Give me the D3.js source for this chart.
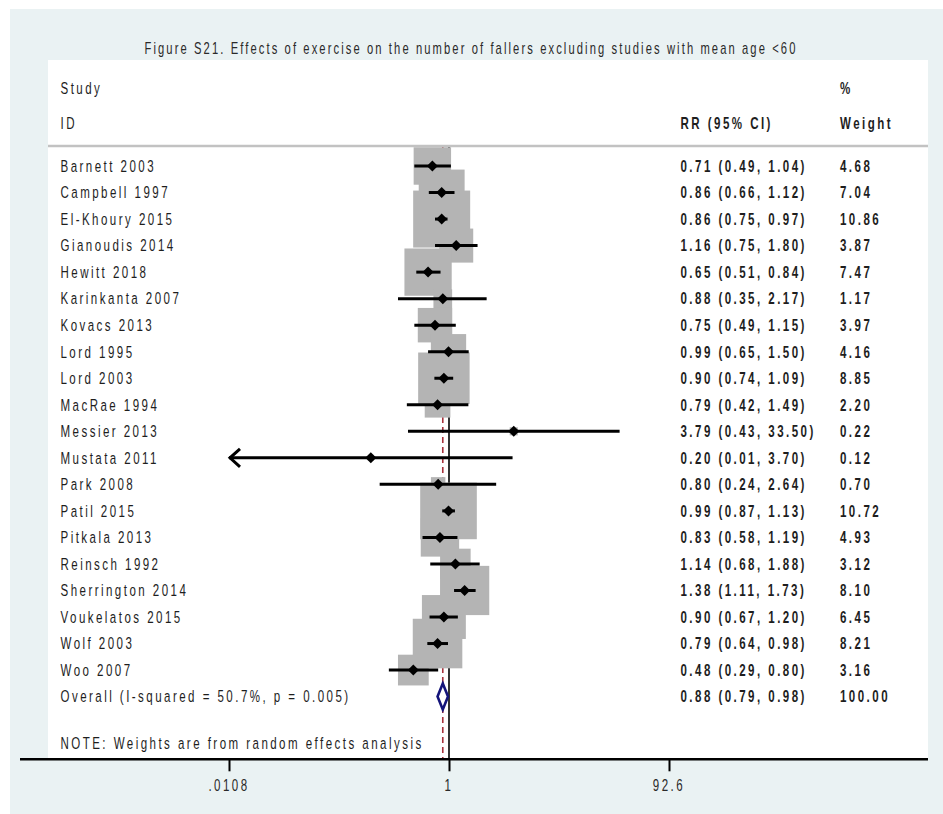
<!DOCTYPE html>
<html>
<head>
<meta charset="utf-8">
<script src="https://cdn.jsdelivr.net/npm/d3@7"></script>
<style>
  html, body { margin: 0; padding: 0; background: #ffffff; }
  svg { display: block; }
</style>
</head>
<body>
<svg id="chart" width="943" height="814"></svg>
<script>
// Forest plot: exercise and number of fallers (random-effects meta-analysis)
const chartTitle = "Figure S21. Effects of exercise on the number of fallers excluding studies with mean age <60";

const studies = [
  "Barnett 2003", "Campbell 1997", "El-Khoury 2015", "Gianoudis 2014", "Hewitt 2018",
  "Karinkanta 2007", "Kovacs 2013", "Lord 1995", "Lord 2003", "MacRae 1994",
  "Messier 2013", "Mustata 2011", "Park 2008", "Patil 2015", "Pitkala 2013",
  "Reinsch 1992", "Sherrington 2014", "Voukelatos 2015", "Wolf 2003", "Woo 2007"
];
const rr    = [0.71, 0.86, 0.86, 1.16, 0.65, 0.88, 0.75, 0.99, 0.90, 0.79, 3.79, 0.20, 0.80, 0.99, 0.83, 1.14, 1.38, 0.90, 0.79, 0.48];
const lower = [0.49, 0.66, 0.75, 0.75, 0.51, 0.35, 0.49, 0.65, 0.74, 0.42, 0.43, 0.01, 0.24, 0.87, 0.58, 0.68, 1.11, 0.67, 0.64, 0.29];
const upper = [1.04, 1.12, 0.97, 1.80, 0.84, 2.17, 1.15, 1.50, 1.09, 1.49, 33.50, 3.70, 2.64, 1.13, 1.19, 1.88, 1.73, 1.20, 0.98, 0.80];
const weights = [4.68, 7.04, 10.86, 3.87, 7.47, 1.17, 3.97, 4.16, 8.85, 2.20, 0.22, 0.12, 0.70, 10.72, 4.93, 3.12, 8.10, 6.45, 8.21, 3.16];

const overallLabel = "Overall  (I-squared = 50.7%, p = 0.005)";
const overallRR = 0.88, overallLower = 0.79, overallUpper = 0.98, overallWeight = 100.00;
const noteText = "NOTE: Weights are from random effects analysis";

const headerLeft = ["Study", "ID"];
const headerEffect = "RR (95% CI)";
const headerWeight = ["%", "Weight"];

const tickValues = [0.0108, 1, 92.6];
const tickLabels = [".0108", "1", "92.6"];

// ---- layout ----
const W = 943, H = 814;
const plot = { left: 48, right: 928, top: 60, axisY: 759.3 };
const colName = 60.5, colRR = 680.5, colWt = 840;
const FONT = "'Liberation Sans', Arial, sans-serif";
const SX = 0.7;          // horizontal squeeze for the narrow Stata-style lettering
const LS = 3.5;          // letter spacing (pre-squeeze units)
const FS = 16.5;

const svg = d3.select("#chart");

// outer graph region
svg.append("rect").attr("x", 10).attr("y", 9).attr("width", W - 10).attr("height", H - 9)
  .attr("fill", "#eaf2f3");
// inner plot region
svg.append("rect").attr("x", plot.left).attr("y", plot.top)
  .attr("width", plot.right - plot.left).attr("height", plot.axisY - plot.top)
  .attr("fill", "#ffffff");

function label(g, x, y, text, opts = {}) {
  return g.append("text")
    .attr("transform", `translate(${x},${y}) scale(${opts.sx || SX},1)`)
    .attr("font-family", FONT)
    .attr("font-size", opts.size || FS)
    .attr("font-weight", opts.bold ? "bold" : "normal")
    .attr("letter-spacing", opts.ls != null ? opts.ls : LS)
    .attr("text-anchor", opts.anchor || "start")
    .attr("dominant-baseline", "central")
    .attr("fill", opts.fill || "#1e1e1e")
    .text(text);
}

// title
label(svg, 471, 48, chartTitle, { size: 16, anchor: "middle", ls: 3.0, fill: "#2a2a2a" });

// column headers
label(svg, colName, 88, headerLeft[0]);
label(svg, colName, 123, headerLeft[1]);
label(svg, colRR, 123, headerEffect, { bold: true });
label(svg, colWt, 88, headerWeight[0], { bold: true });
label(svg, colWt, 123, headerWeight[1], { bold: true });

// header separator
svg.append("line").attr("x1", plot.left).attr("x2", plot.right)
  .attr("y1", 146).attr("y2", 146)
  .attr("stroke", "#c2c2c2").attr("stroke-width", 2.5);

// ---- scales ----
const x = d3.scaleLog().domain([tickValues[0], tickValues[2]]).range([229, 669]);
const y = d3.scaleLinear().domain([0, studies.length]).range([166, 696.6]);
const boxSide = d3.scaleSqrt().domain([0, d3.max(weights)]).range([0, 57]);

const rows = studies.map((s, i) => ({ study: s, rr: rr[i], lo: lower[i], hi: upper[i], w: weights[i], i }));

// reference lines: null effect and pooled estimate
const refTop = 147, refBottom = plot.axisY;
svg.append("line").attr("x1", x(1)).attr("x2", x(1)).attr("y1", refTop).attr("y2", refBottom)
  .attr("stroke", "#000").attr("stroke-width", 1.6);
svg.append("line").attr("x1", x(overallRR)).attr("x2", x(overallRR)).attr("y1", refTop).attr("y2", refBottom)
  .attr("stroke", "#a8323c").attr("stroke-width", 1.6).attr("stroke-dasharray", "6,4");

// weight boxes
svg.append("g").selectAll("rect").data(rows).join("rect")
  .attr("x", d => x(d.rr) - boxSide(d.w) / 2)
  .attr("y", d => y(d.i) - boxSide(d.w) / 2)
  .attr("width", d => boxSide(d.w))
  .attr("height", d => boxSide(d.w))
  .attr("fill", "#b4b4b4");

// confidence intervals
const [xMin, xMax] = x.domain();
const ci = svg.append("g").attr("stroke", "#000").attr("stroke-width", 3).attr("fill", "none");
rows.forEach(d => {
  const lo = Math.max(d.lo, xMin), hi = Math.min(d.hi, xMax);
  ci.append("line").attr("x1", x(lo)).attr("x2", x(hi)).attr("y1", y(d.i)).attr("y2", y(d.i));
  if (d.lo < xMin) {
    ci.append("path")
      .attr("d", `M${x(lo) + 11},${y(d.i) - 9} L${x(lo) + 1},${y(d.i)} L${x(lo) + 11},${y(d.i) + 9}`);
  }
  if (d.hi > xMax) {
    ci.append("path")
      .attr("d", `M${x(hi) - 11},${y(d.i) - 9} L${x(hi) - 1},${y(d.i)} L${x(hi) - 11},${y(d.i) + 9}`);
  }
});

// point estimates
svg.append("g").selectAll("path").data(rows).join("path")
  .attr("d", d => { const cx = x(d.rr), cy = y(d.i), r = 5.5;
    return `M${cx - r},${cy} L${cx},${cy - r} L${cx + r},${cy} L${cx},${cy + r} Z`; })
  .attr("fill", "#000");

// pooled estimate diamond
const oy = y(studies.length);
svg.append("path")
  .attr("d", `M${x(overallLower)},${oy} L${x(overallRR)},${oy - 13} L${x(overallUpper)},${oy} L${x(overallRR)},${oy + 13} Z`)
  .attr("fill", "#ffffff").attr("stroke", "#14147a").attr("stroke-width", 2.6);

// row text
const fmt = d3.format(".2f");
const textG = svg.append("g");
rows.forEach(d => {
  label(textG, colName, y(d.i), d.study);
  label(textG, colRR, y(d.i), `${fmt(d.rr)} (${fmt(d.lo)}, ${fmt(d.hi)})`, { bold: true });
  label(textG, colWt, y(d.i), fmt(d.w), { bold: true });
});
label(textG, colName, oy, overallLabel);
label(textG, colRR, oy, `${fmt(overallRR)} (${fmt(overallLower)}, ${fmt(overallUpper)})`, { bold: true });
label(textG, colWt, oy, fmt(overallWeight), { bold: true });
label(textG, colName, 743, noteText);

// x axis
svg.append("line").attr("x1", 20).attr("x2", plot.right)
  .attr("y1", plot.axisY).attr("y2", plot.axisY)
  .attr("stroke", "#000").attr("stroke-width", 2.4);
const axis = d3.axisBottom(x).tickValues(tickValues)
  .tickFormat((d, i) => tickLabels[i]).tickSize(12).tickPadding(10);
const axG = svg.append("g").attr("transform", `translate(0,${plot.axisY})`).call(axis);
axG.select(".domain").remove();
axG.selectAll(".tick line").attr("stroke", "#000").attr("stroke-width", 2);
axG.selectAll(".tick text").remove();
tickValues.forEach((v, i) => label(axG, x(v), 26, tickLabels[i], { anchor: "middle", fill: "#2a2a2a" }));
</script>
</body>
</html>
